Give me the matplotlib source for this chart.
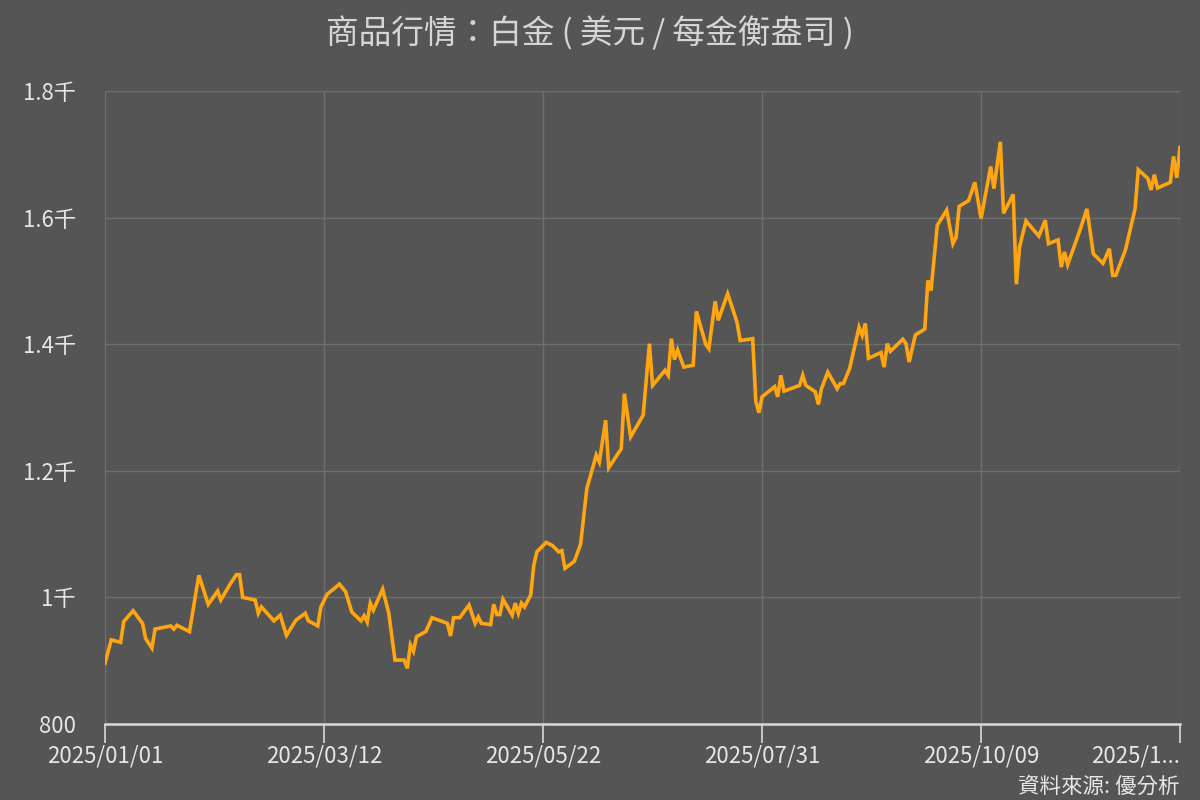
import matplotlib
matplotlib.use("Agg")
import matplotlib.pyplot as plt
import numpy as np

plt.rcParams['font.family'] = ['Noto Sans CJK TC', 'DejaVu Sans']

# platinum price (days counted from 2025/01/01)
day_offsets = [0, 2, 5, 6, 9, 12, 13, 15, 16, 21, 22, 23, 27, 30, 33, 36, 37,
               40, 42, 43, 44, 48, 49, 50, 54, 56, 58, 61, 64, 65, 68,
               69, 71, 75, 77, 79, 82, 83, 84, 85, 86, 89, 91, 93, 96, 97,
               98, 99, 100, 103, 105, 110, 111, 112, 114, 117, 119, 120, 121,
               124, 125, 126, 127, 128, 131, 132, 133, 134, 135, 137, 138, 139,
               142, 144, 146, 147, 148, 151, 153, 155, 158, 159, 161, 162, 166,
               167, 169, 173, 175, 176, 180, 181, 182, 183, 184, 186, 189, 190,
               193, 194, 196, 197, 200, 203, 204, 207, 208, 209, 210, 211, 215,
               216, 217, 218, 223, 224, 225, 228, 229, 230, 232, 235, 236, 237,
               239, 242, 243, 244, 245, 249, 250, 251, 252, 256, 257, 258, 260,
               263, 264, 265, 267, 270, 272, 273, 274, 277, 279, 281, 284, 285,
               287, 288, 291, 292, 293, 295, 299, 301, 302, 305, 306, 307, 308,
               312, 314, 316, 319, 321, 322, 323, 326, 329, 330, 333, 334, 335,
               336, 340, 341, 342, 343]
prices = [896, 933, 929, 962, 979, 959, 935, 920, 950, 955, 950, 956, 946,
          1035, 989, 1010, 996, 1021, 1036, 1036, 1000, 996, 975, 985, 963,
          972, 940, 964, 975, 963, 955,
          985, 1005, 1021, 1009, 977, 963, 971, 961, 991, 980, 1013, 975, 901,
          901, 888, 925, 915, 938, 946, 968, 959, 939, 968, 968, 988, 959, 969,
          959, 957, 989, 973, 973, 997, 972, 991, 975, 991, 985, 1004, 1051,
          1072, 1087, 1082, 1072, 1074, 1046, 1057, 1084, 1172, 1225, 1214,
          1280, 1205, 1235, 1322, 1254, 1288, 1401, 1335, 1359, 1351, 1409,
          1376, 1391, 1364, 1367, 1452, 1400, 1393, 1468, 1438, 1480, 1435,
          1406, 1408, 1409, 1310, 1292, 1317, 1333, 1317, 1351, 1326, 1335,
          1351, 1335, 1325, 1305, 1330, 1356, 1330, 1338, 1338, 1362, 1427,
          1414, 1433, 1378, 1387, 1364, 1401, 1389, 1408, 1401, 1372, 1415,
          1424, 1501, 1485, 1588, 1612, 1559, 1569, 1618, 1627, 1656, 1599,
          1681, 1646, 1720, 1607, 1637, 1495, 1554, 1595, 1571, 1596, 1559,
          1565, 1522, 1546, 1526, 1583, 1614, 1543, 1528, 1551, 1509, 1509,
          1549, 1614, 1676, 1662, 1644, 1668, 1647, 1656, 1697, 1663, 1711]

# x ticks sit every 50 trading days; last one is the final data point
tick_days = [0, 70, 141, 211, 281, 343]
tick_index = [0, 50, 100, 150, 200, 245.4]
tick_labels = ['2025/01/01', '2025/03/12', '2025/05/22', '2025/07/31',
               '2025/10/09', '2025/1...']
y_ticks = [800, 1000, 1200, 1400, 1600, 1800]
y_labels = ['800', '1千', '1.2千', '1.4千', '1.6千', '1.8千']

bg = '#555555'
text_color = '#e6e6e6'
grid_color = '#6f6f6f'

# calendar days -> trading-day position on the axis
xpos = np.interp(day_offsets, tick_days, tick_index)

fig = plt.figure(figsize=(12, 8), dpi=100, facecolor=bg)
ax = fig.add_axes([0.0875, 0.095, 0.8958, 0.791], facecolor=bg)

ax.plot(xpos, prices, color='#ffa510', lw=2.6, solid_joinstyle='miter')

ax.set_ylim(800, 1800)
ax.set_xlim(tick_index[0], tick_index[-1])
ax.set_yticks(y_ticks)
ax.set_yticklabels(y_labels)
ax.set_xticks(tick_index)
ax.set_xticklabels(tick_labels)
ax.get_xticklabels()[-1].set_horizontalalignment('right')

ax.grid(True, color=grid_color, lw=1)
ax.set_axisbelow(True)
for side in ['left', 'right', 'top']:
    ax.spines[side].set_visible(False)
ax.spines['bottom'].set_color('#d9d9d9')
ax.spines['bottom'].set_linewidth(1.8)

ax.tick_params(axis='x', colors='#d9d9d9', length=14, width=1.2, pad=1,
               labelsize=16, labelcolor=text_color)
ax.tick_params(axis='y', length=0, pad=21, labelsize=16,
               labelcolor=text_color)

fig.text(0.4917, 0.958, '商品行情：白金 ( 美元 / 每金衡盎司 )', ha='center',
         va='center', fontsize=23.5, color='#d5d5d5')
fig.text(0.983, 0.003, '資料來源: 優分析', ha='right', va='bottom',
         fontsize=15.5, color=text_color)

fig.savefig('out.png', dpi=100, facecolor=bg)
